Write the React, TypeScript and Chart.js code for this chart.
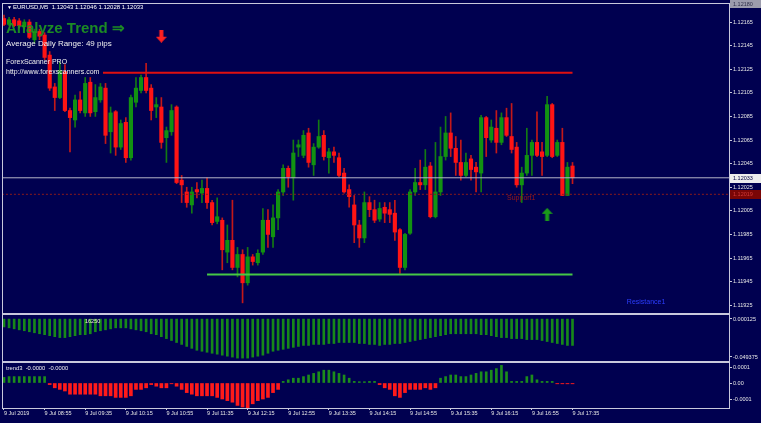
import React, { useEffect, useRef } from 'react';
import { Chart, registerables } from 'chart.js';
Chart.register(...registerables);

// ---------- DATA ----------
const opens = [
  1.12168, 1.12163, 1.12167, 1.12166, 1.12161, 1.12165, 1.12150, 1.12157, 1.12154, 1.12137,
  1.12110, 1.12101, 1.12123, 1.12090, 1.12082, 1.12099, 1.12088, 1.12114, 1.12089, 1.12099,
  1.12109, 1.12072, 1.12089, 1.12059, 1.12080, 1.12050, 1.12097, 1.12107, 1.12118, 1.12109,
  1.12093, 1.12093, 1.12067, 1.12072, 1.12093, 1.12031, 1.12021, 1.12010, 1.12023, 1.12020,
  1.12024, 1.12012, 1.11996, 1.11997, 1.11970, 1.11980, 1.11957, 1.11968, 1.11944, 1.11966,
  1.11961, 1.11970, 1.11997, 1.11983, 1.11999, 1.12021, 1.12041, 1.12033, 1.12059, 1.12052,
  1.12071, 1.12044, 1.12059, 1.12069, 1.12050, 1.12055, 1.12050, 1.12037, 1.12023, 1.12010,
  1.11993, 1.11982, 1.12012, 1.12006, 1.11998, 1.12008, 1.12006, 1.12003, 1.11989, 1.11957,
  1.11986, 1.12021, 1.12029, 1.12027, 1.12043, 1.12000, 1.12021, 1.12051, 1.12071, 1.12058,
  1.12046, 1.12035, 1.12049, 1.12042, 1.12037, 1.12084, 1.12065, 1.12075, 1.12063, 1.12084,
  1.12068, 1.12059, 1.12027, 1.12037, 1.12052, 1.12063, 1.12055, 1.12052, 1.12095, 1.12052,
  1.12063, 1.12018, 1.12043,
];
const closes = [
  1.12163, 1.12167, 1.12162, 1.12162, 1.12165, 1.12152, 1.12157, 1.12153, 1.12135, 1.12109,
  1.12101, 1.12124, 1.12090, 1.12084, 1.12099, 1.12090, 1.12113, 1.12088, 1.12101, 1.12110,
  1.12069, 1.12088, 1.12059, 1.12079, 1.12050, 1.12101, 1.12109, 1.12118, 1.12107, 1.12090,
  1.12095, 1.12063, 1.12073, 1.12090, 1.12029, 1.12027, 1.12012, 1.12021, 1.12021, 1.12024,
  1.12012, 1.11995, 1.12000, 1.11972, 1.11980, 1.11957, 1.11968, 1.11944, 1.11966, 1.11962,
  1.11969, 1.11997, 1.11985, 1.11999, 1.12021, 1.12041, 1.12034, 1.12054, 1.12061, 1.12069,
  1.12046, 1.12059, 1.12068, 1.12051, 1.12055, 1.12052, 1.12035, 1.12021, 1.12017, 1.11993,
  1.11982, 1.12012, 1.12006, 1.11997, 1.12007, 1.12003, 1.12002, 1.11987, 1.11957, 1.11985,
  1.12021, 1.12029, 1.12027, 1.12042, 1.12000, 1.12021, 1.12051, 1.12071, 1.12058, 1.12046,
  1.12035, 1.12046, 1.12040, 1.12038, 1.12084, 1.12067, 1.12076, 1.12063, 1.12084, 1.12069,
  1.12057, 1.12027, 1.12037, 1.12052, 1.12063, 1.12052, 1.12051, 1.12095, 1.12051, 1.12063,
  1.12018, 1.12042, 1.12033,
];
const highs = [
  1.12171, 1.12169, 1.12169, 1.12168, 1.12167, 1.12167, 1.12159, 1.12159, 1.12156, 1.12140,
  1.12113, 1.12131, 1.12129, 1.12092, 1.12103, 1.12106, 1.12118, 1.12118, 1.12112, 1.12113,
  1.12113, 1.12093, 1.12090, 1.12082, 1.12084, 1.12103, 1.12118, 1.12120, 1.12130, 1.12112,
  1.12101, 1.12101, 1.12076, 1.12095, 1.12094, 1.12035, 1.12025, 1.12025, 1.12029, 1.12031,
  1.12033, 1.12014, 1.12016, 1.11999, 1.11993, 1.12014, 1.11974, 1.11972, 1.11974, 1.11968,
  1.11972, 1.12007, 1.12006, 1.12010, 1.12023, 1.12044, 1.12043, 1.12065, 1.12065, 1.12073,
  1.12075, 1.12062, 1.12082, 1.12073, 1.12058, 1.12059, 1.12054, 1.12041, 1.12027, 1.12018,
  1.11997, 1.12021, 1.12017, 1.12014, 1.12012, 1.12012, 1.12012, 1.12014, 1.11990, 1.11986,
  1.12023, 1.12041, 1.12048, 1.12057, 1.12046, 1.12063, 1.12076, 1.12085, 1.12088, 1.12068,
  1.12065, 1.12054, 1.12052, 1.12046, 1.12086, 1.12085, 1.12082, 1.12090, 1.12088, 1.12092,
  1.12096, 1.12063, 1.12042, 1.12075, 1.12065, 1.12089, 1.12063, 1.12102, 1.12096, 1.12065,
  1.12075, 1.12046, 1.12046,
];
const lows = [
  1.12162, 1.12162, 1.12161, 1.12160, 1.12159, 1.12151, 1.12147, 1.12150, 1.12133, 1.12107,
  1.12090, 1.12100, 1.12089, 1.12055, 1.12076, 1.12088, 1.12085, 1.12085, 1.12085, 1.12097,
  1.12062, 1.12054, 1.12052, 1.12057, 1.12046, 1.12048, 1.12093, 1.12105, 1.12105, 1.12082,
  1.12084, 1.12058, 1.12046, 1.12069, 1.12028, 1.12012, 1.12008, 1.12003, 1.12016, 1.12012,
  1.12007, 1.11993, 1.11994, 1.11955, 1.11961, 1.11955, 1.11949, 1.11927, 1.11942, 1.11959,
  1.11959, 1.11968, 1.11974, 1.11974, 1.11989, 1.12018, 1.12025, 1.12014, 1.12051, 1.12050,
  1.12042, 1.12035, 1.12058, 1.12048, 1.12037, 1.12046, 1.12034, 1.12020, 1.12008, 1.11978,
  1.11974, 1.11978, 1.12000, 1.11995, 1.11996, 1.11995, 1.11995, 1.11980, 1.11952, 1.11955,
  1.11985, 1.12018, 1.12023, 1.12023, 1.11999, 1.11999, 1.12018, 1.12048, 1.12051, 1.12035,
  1.12031, 1.12034, 1.12031, 1.12021, 1.12021, 1.12051, 1.12063, 1.12054, 1.12061, 1.12068,
  1.12054, 1.12025, 1.12012, 1.12035, 1.12035, 1.12051, 1.12035, 1.12051, 1.12050, 1.12051,
  1.12018, 1.12018, 1.12028,
];

// indicator window 1 (green histogram hanging from zero)
const oscValues = [
  -0.0102, -0.0114, -0.0127, -0.0140, -0.0152, -0.0165, -0.0178, -0.0191,
  -0.0203, -0.0216, -0.0229, -0.0241, -0.0241, -0.0229, -0.0216, -0.0203, -0.0203,
  -0.0191, -0.0165, -0.0152, -0.0140, -0.0127, -0.0114, -0.0114, -0.0114, -0.0127, -0.0140, -0.0152, -0.0165, -0.0191, -0.0203,
  -0.0229, -0.0254, -0.0279, -0.0305, -0.0330, -0.0356, -0.0381, -0.0406, -0.0419, -0.0432,
  -0.0445, -0.0457, -0.0470, -0.0483, -0.0495, -0.0508, -0.0508, -0.0508, -0.0495, -0.0483, -0.0470, -0.0445,
  -0.0419, -0.0406, -0.0394, -0.0381, -0.0368, -0.0356, -0.0343, -0.0343, -0.0330, -0.0330,
  -0.0330, -0.0318, -0.0318, -0.0305, -0.0305, -0.0305, -0.0305, -0.0318, -0.0318, -0.0330, -0.0330, -0.0343,
  -0.0330, -0.0330, -0.0318, -0.0318, -0.0305, -0.0292, -0.0279, -0.0267,
  -0.0254, -0.0241, -0.0229, -0.0216, -0.0203, -0.0191, -0.0191, -0.0191, -0.0191, -0.0191,
  -0.0191, -0.0203, -0.0203, -0.0216, -0.0229, -0.0241, -0.0241, -0.0254, -0.0254, -0.0254, -0.0267, -0.0267,
  -0.0267, -0.0279, -0.0292, -0.0305, -0.0318, -0.0330, -0.0343, -0.0343,
];

// indicator window 2 (trend3)
const trendValues = [
  0.000035, 0.00004, 0.00004, 0.00004, 0.00004, 0.00004, 0.00004, 0.00004, 0.00004,
  -0.00001, -0.00003, -0.00004, -0.00005, -0.00007, -0.00007, -0.00007, -0.00007, -0.00007, -0.00007,
  -0.00008, -0.00008, -0.00008, -0.00009, -0.00009, -0.00009, -0.00008, -0.00004, -0.00004, -0.00003,
  -0.00001, -0.00002, -0.00003, -0.00003, -0.000005, -0.00002, -0.00004, -0.00006, -0.00007, -0.00008,
  -0.00008, -0.00008, -0.00008, -0.00009, -0.0001, -0.00011, -0.00012, -0.00014, -0.00015, -0.00016,
  -0.00013, -0.00011, -0.0001, -0.00009, -0.00006, -0.00004,
  0.00001, 0.00002, 0.00003, 0.00003, 0.00004, 0.00005, 0.00006, 0.00007, 0.00008, 0.00008,
  0.00007, 0.00006, 0.00005, 0.00003, 0.00001, 0.000008, 0.000008, 0.00001, 0.00001,
  -0.00001, -0.00003, -0.00004, -0.00008, -0.00009, -0.00006, -0.00004, -0.00004, -0.00004, -0.00003,
  -0.00004, -0.00003,
  0.00003, 0.00004, 0.00005, 0.00005, 0.00004, 0.00004, 0.00005, 0.00006, 0.00007, 0.00007,
  0.00008, 0.00009, 0.00011, 0.00007, 0.00001, 0.00001, 0.00001, 0.00004, 0.00005, 0.00002,
  0.00001, 0.00001, 0.00001,
  -0.000005, -0.000005, -0.000005, -0.000005,
];

const timeTickIndex = [0, 8, 16, 24, 32, 40, 48, 56, 64, 72, 80, 88, 96, 104, 112];
const timeLabels = [
  '9 Jul 2019', '9 Jul 08:55', '9 Jul 09:35', '9 Jul 10:15', '9 Jul 10:55', '9 Jul 11:35',
  '9 Jul 12:15', '9 Jul 12:55', '9 Jul 13:35', '9 Jul 14:15', '9 Jul 14:55', '9 Jul 15:35',
  '9 Jul 16:15', '9 Jul 16:55', '9 Jul 17:35',
];
const priceTicks = [1.12165, 1.12145, 1.12125, 1.12105, 1.12085, 1.12065, 1.12045, 1.12025, 1.12005, 1.11985, 1.11965, 1.11945, 1.11925];
const priceTickLabels = ['1.12165', '1.12145', '1.12125', '1.12105', '1.12085', '1.12065', '1.12045', '1.12025', '1.12005', '1.11985', '1.11965', '1.11945', '1.11925'];
const oscTicks = [0.000125, -0.049375];
const oscTickLabels = ['0.000125', '-0.049375'];
const trendTicks = [0.0001, 0, -0.0001];
const trendTickLabels = ['0.0001', '0.00', '-0.0001'];

const resistanceLevel = 1.12122;
const resistanceSpan = [19.5, 112];
const supportLevel = 1.11951;
const supportSpan = [40, 112];
const bidPrice = 1.12033;
const pivotLevel = 1.12019;
const sellArrow = { x: 31, y: 1.12153 };
const buyArrow = { x: 107, y: 1.12002 };
const supportLabel = { x: 99.1, y: 1.12016, text: 'Support1' };
const blueLabel = { x: 122.7, y: 1.11928, text: 'Resistance1' };

// ---------- STYLE ----------
const BG = '#000050';
const FRAME = '#c8c8dc';
const GREEN = '#129212';
const RED = '#ff1414';
const WICK_GREEN = '#137a13';
const WICK_RED = '#c41818';
const FONT = "'Liberation Sans', Arial, sans-serif";

const X_MIN = -0.197;
const X_MAX = 142.83;
const Y_MIN = 1.119184;
const Y_MAX = 1.121803;

function makeArrow(color: string, up: boolean) {
  const c = document.createElement('canvas');
  c.width = 11;
  c.height = 13;
  const g = c.getContext('2d')!;
  g.fillStyle = color;
  g.beginPath();
  if (up) {
    g.moveTo(5.5, 0);
    g.lineTo(11, 6);
    g.lineTo(7.5, 6);
    g.lineTo(7.5, 13);
    g.lineTo(3.5, 13);
    g.lineTo(3.5, 6);
    g.lineTo(0, 6);
  } else {
    g.moveTo(3.5, 0);
    g.lineTo(7.5, 0);
    g.lineTo(7.5, 7);
    g.lineTo(11, 7);
    g.lineTo(5.5, 13);
    g.lineTo(0, 7);
    g.lineTo(3.5, 7);
  }
  g.closePath();
  g.fill();
  return c;
}

const zeroPad = (s: any) => {
  s.paddingLeft = 0;
  s.paddingRight = 0;
  s.paddingTop = 0;
  s.paddingBottom = 0;
};

const overlayPlugin = {
  id: 'mt4overlay',
  beforeDraw(chart: any) {
    const { ctx, width, height } = chart;
    ctx.save();
    ctx.fillStyle = BG;
    ctx.fillRect(0, 0, width, height);
    ctx.restore();
  },
  afterDraw(chart: any) {
    const { ctx, chartArea } = chart;
    const xs = chart.scales.x;
    const ys = chart.scales.y;
    const y2 = chart.scales.y2;
    const L = chartArea.left - 1;
    const R = chartArea.right;
    ctx.save();
    // frames
    ctx.fillStyle = FRAME;
    ctx.fillRect(L, chartArea.top - 1, R - L + 1, 1);
    ctx.fillRect(L, ys.bottom, R - L + 1, 2);
    ctx.fillRect(L, y2.bottom, R - L + 1, 2);
    ctx.fillRect(L, chartArea.bottom, R - L + 1, 1);
    ctx.fillRect(L, chartArea.top - 1, 1, chartArea.bottom - chartArea.top + 2);
    ctx.fillRect(R, chartArea.top - 1, 1, chartArea.bottom - chartArea.top + 2);

    ctx.textBaseline = 'middle';
    ctx.textAlign = 'left';
    // header
    const n = closes.length - 1;
    ctx.fillStyle = '#ffffff';
    ctx.font = `5px ${FONT}`;
    ctx.fillText('▼', 7, 7.5);
    ctx.font = `6px ${FONT}`;
    ctx.fillText(`EURUSD,M5  ${opens[n].toFixed(5)} ${highs[n].toFixed(5)} ${lows[n].toFixed(5)} ${closes[n].toFixed(5)}`, 13, 7.5);

    // Analyze Trend
    ctx.globalAlpha = 0.9;
    ctx.fillStyle = '#1f9a1f';
    ctx.font = `bold 15px ${FONT}`;
    ctx.fillText('Analyze Trend ⇒', 6, 29);
    ctx.globalAlpha = 1;

    ctx.fillStyle = '#f0f0f0';
    ctx.font = `8px ${FONT}`;
    ctx.fillText('Average Daily Range: 49 pips', 6, 44);
    ctx.font = `7px ${FONT}`;
    ctx.fillText('ForexScanner PRO', 6, 62);
    ctx.fillText('http://www.forexscanners.com', 6, 72);

    ctx.fillStyle = '#eeeec8';
    ctx.font = `5.5px ${FONT}`;
    ctx.fillText('16250', 85, 321);
    ctx.fillStyle = '#f0f0f0';
    ctx.font = `5.8px ${FONT}`;
    ctx.fillText('trend3  -0.0000  -0.0000', 6, 368);

    // object labels
    ctx.font = `7px ${FONT}`;
    ctx.fillStyle = '#9a1818';
    ctx.fillText(supportLabel.text, xs.getPixelForValue(supportLabel.x), ys.getPixelForValue(supportLabel.y));
    ctx.fillStyle = '#2b3dff';
    ctx.fillText(blueLabel.text, xs.getPixelForValue(blueLabel.x), ys.getPixelForValue(blueLabel.y));

    // price boxes on the axis
    ctx.font = `5.5px ${FONT}`;
    const boxX = R + 1;
    const boxW = chart.width - boxX;
    const drawBox = (price: number, bg: string, fg: string) => {
      const py = ys.getPixelForValue(price);
      ctx.fillStyle = bg;
      ctx.fillRect(boxX, Math.round(py) - 4, boxW, 9);
      ctx.fillStyle = fg;
      ctx.fillText(price.toFixed(5), boxX + 3, Math.round(py) + 0.5);
    };
    drawBox(pivotLevel, '#7a0606', '#d23a3a');
    drawBox(bidPrice, '#ececec', '#000040');
    ctx.fillStyle = '#9c9cac';
    ctx.fillRect(boxX, 0, boxW, 8);
    ctx.fillStyle = '#30304a';
    ctx.fillText(Y_MAX.toFixed(5), boxX + 3, 4);
    ctx.restore();
  },
};

export default function App() {
  const ref = useRef<HTMLCanvasElement>(null);
  useEffect(() => {
    document.body.style.margin = '0';
    document.body.style.background = BG;
    const canvas = ref.current!;
    const idx = opens.map((_, i) => i);
    const bull = idx.map((i) => closes[i] >= opens[i]);
    const wideAxis = (s: any) => { s.width = 32; zeroPad(s); };
    const tickFont = { family: FONT, size: 5.5 };

    const chart = new Chart(canvas, {
      type: 'bar',
      data: {
        datasets: [
          {
            type: 'bar',
            label: 'wicks',
            data: idx.map((i) => ({ x: i, y: [lows[i], highs[i]] })) as any,
            backgroundColor: bull.map((b) => (b ? WICK_GREEN : WICK_RED)),
            barThickness: 1,
            grouped: false,
            yAxisID: 'y',
            order: 5,
          } as any,
          {
            type: 'bar',
            label: 'bodies',
            data: idx.map((i) => ({ x: i, y: [opens[i], closes[i]] })) as any,
            backgroundColor: bull.map((b) => (b ? GREEN : RED)),
            barThickness: 3.5,
            minBarLength: 1,
            grouped: false,
            yAxisID: 'y',
            order: 4,
          } as any,
          {
            type: 'line',
            label: 'bid',
            data: [{ x: X_MIN - 1, y: bidPrice }, { x: X_MAX + 1, y: bidPrice }],
            borderColor: '#b4b4c8',
            borderWidth: 1,
            pointRadius: 0,
            yAxisID: 'y',
            order: 3,
          },
          {
            type: 'line',
            label: 'pivot',
            data: [{ x: X_MIN - 1, y: pivotLevel }, { x: X_MAX + 1, y: pivotLevel }],
            borderColor: '#8b1a1a',
            borderWidth: 1,
            borderDash: [2, 2],
            pointRadius: 0,
            yAxisID: 'y',
            order: 3,
          },
          {
            type: 'line',
            label: 'resistance',
            data: [{ x: resistanceSpan[0], y: resistanceLevel }, { x: resistanceSpan[1], y: resistanceLevel }],
            borderColor: '#e01010',
            borderWidth: 2,
            pointRadius: 0,
            yAxisID: 'y',
            order: 2,
          },
          {
            type: 'line',
            label: 'support',
            data: [{ x: supportSpan[0], y: supportLevel }, { x: supportSpan[1], y: supportLevel }],
            borderColor: '#46c846',
            borderWidth: 2,
            pointRadius: 0,
            yAxisID: 'y',
            order: 2,
          },
          {
            type: 'line',
            label: 'sell',
            data: [sellArrow],
            showLine: false,
            pointStyle: makeArrow('#ff2020', false) as any,
            pointRadius: 6,
            yAxisID: 'y',
            order: 1,
          },
          {
            type: 'line',
            label: 'buy',
            data: [buyArrow],
            showLine: false,
            pointStyle: makeArrow('#1a9a1a', true) as any,
            pointRadius: 6,
            yAxisID: 'y',
            order: 1,
          },
          {
            type: 'bar',
            label: 'osc',
            data: idx.map((i) => ({ x: i, y: oscValues[i] })) as any,
            backgroundColor: '#17881a',
            barThickness: 2,
            grouped: false,
            yAxisID: 'y2',
          } as any,
          {
            type: 'bar',
            label: 'trend up',
            data: idx.map((i) => ({ x: i, y: trendValues[i] > 0 ? trendValues[i] : null })) as any,
            backgroundColor: '#1c8c1c',
            barThickness: 2,
            grouped: false,
            yAxisID: 'y3',
          } as any,
          {
            type: 'bar',
            label: 'trend down',
            data: idx.map((i) => ({ x: i, y: trendValues[i] < 0 ? trendValues[i] : null })) as any,
            backgroundColor: '#ff1a1a',
            barThickness: 3,
            grouped: false,
            yAxisID: 'y3',
          } as any,
        ],
      },
      options: {
        responsive: false,
        animation: false,
        events: [],
        layout: { autoPadding: false, padding: { left: 3, top: 4, right: 0, bottom: 0 } },
        plugins: { legend: { display: false }, tooltip: { enabled: false } },
        scales: {
          x: {
            type: 'linear',
            min: X_MIN,
            max: X_MAX,
            offset: false,
            position: 'bottom',
            grid: { display: true, offset: false, drawOnChartArea: false, drawTicks: true, tickLength: 2, color: FRAME },
            border: { display: false },
            ticks: {
              autoSkip: false,
              maxRotation: 0,
              align: 'start',
              padding: 0,
              color: '#e6e6e6',
              font: tickFont,
              callback: (v: any) => {
                const k = timeTickIndex.indexOf(Number(v));
                return k >= 0 ? timeLabels[k] : '';
              },
            },
            afterBuildTicks: (s: any) => { s.ticks = timeTickIndex.map((v) => ({ value: v })); },
            afterFit: (s: any) => { s.height = 15; zeroPad(s); },
          } as any,
          y: {
            type: 'linear',
            position: 'right',
            stack: 'panes',
            stackWeight: 309,
            min: Y_MIN,
            max: Y_MAX,
            grid: { display: true, drawOnChartArea: false, drawTicks: true, tickLength: 3, color: FRAME },
            border: { display: false },
            ticks: { autoSkip: false, padding: 1, color: '#e6e6e6', font: tickFont, callback: (_v: any, i: number) => priceTickLabels[i] },
            afterBuildTicks: (s: any) => { s.ticks = priceTicks.map((v) => ({ value: v })); },
            afterFit: wideAxis,
          } as any,
          y2: {
            type: 'linear',
            position: 'right',
            stack: 'panes',
            stackWeight: 48,
            min: -0.05459,
            max: 0.00794,
            grid: { display: true, drawOnChartArea: false, drawTicks: true, tickLength: 3, color: FRAME },
            border: { display: false },
            ticks: { autoSkip: false, padding: 1, color: '#e6e6e6', font: tickFont, callback: (_v: any, i: number) => oscTickLabels[i] },
            afterBuildTicks: (s: any) => { s.ticks = oscTicks.map((v) => ({ value: v })); },
            afterFit: wideAxis,
          } as any,
          y3: {
            type: 'linear',
            position: 'right',
            stack: 'panes',
            stackWeight: 47,
            min: -0.00015625,
            max: 0.0001375,
            grid: { display: true, drawOnChartArea: false, drawTicks: true, tickLength: 3, color: FRAME },
            border: { display: false },
            ticks: { autoSkip: false, padding: 1, color: '#e6e6e6', font: tickFont, callback: (_v: any, i: number) => trendTickLabels[i] },
            afterBuildTicks: (s: any) => { s.ticks = trendTicks.map((v) => ({ value: v })); },
            afterFit: wideAxis,
          } as any,
        },
      },
      plugins: [overlayPlugin],
    } as any);
    return () => chart.destroy();
  }, []);
  return (
    <div style={{ width: 761, height: 423, background: BG }}>
      <canvas ref={ref} width={761} height={423} style={{ display: 'block' }} />
    </div>
  );
}
